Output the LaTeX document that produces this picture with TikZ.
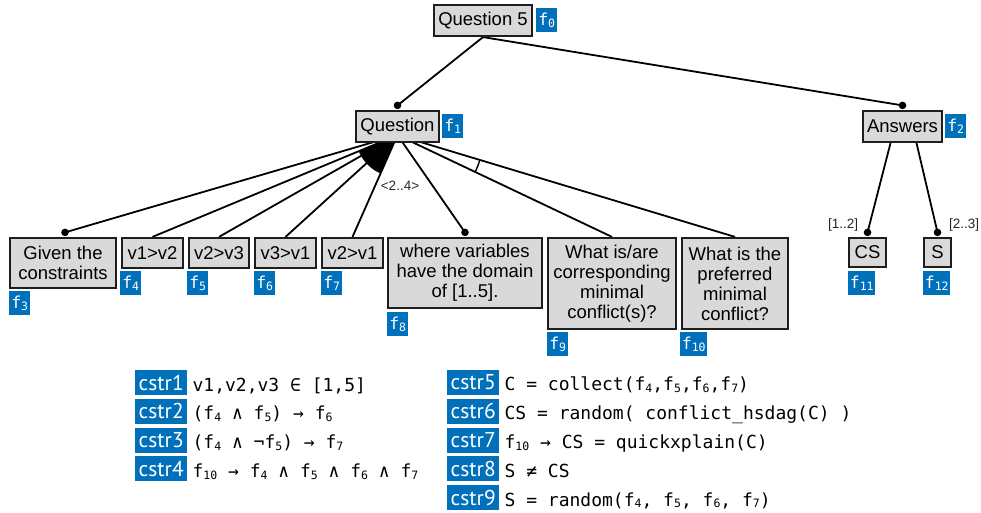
\documentclass[tikz,border=0pt]{standalone}
\usepackage{fontspec}
\setmainfont{Liberation Sans}
\newfontfamily\monof{DejaVu Sans Mono}
\newfontfamily\tagf{PT Sans}
\usetikzlibrary{calc}
\pgfdeclarelayer{bg}
\pgfsetlayers{bg,main}
\definecolor{tagblue}{RGB}{0,112,187}
\definecolor{boxfill}{RGB}{217,217,217}
\definecolor{boxline}{RGB}{30,30,30}
\newcommand\fsub[1]{\raisebox{-0.2ex}{\fontsize{11.5}{11.5}\selectfont #1}}
\begin{document}
\begin{tikzpicture}[x=1pt,y=-1pt,
  box/.style={draw=boxline,line width=2.2pt,fill=boxfill,inner sep=0pt,align=center,font=\fontsize{18.5}{20}\selectfont},
  ftag/.style={fill=tagblue,text=white,inner sep=0pt,anchor=north west,minimum height=24pt,minimum width=21pt,font=\monof\fontsize{16.5}{16.5}\selectfont},
  conn/.style={line width=1.8pt,draw=black},
  lbl/.style={inner sep=0pt,text=black!85,font=\fontsize{13.5}{14}\selectfont},
  ctag/.style={fill=tagblue,text=white,inner sep=0pt,minimum width=52pt,minimum height=25pt,anchor=west,font=\tagf\fontsize{21.5}{21.5}\selectfont},
  ctext/.style={inner sep=0pt,anchor=base west,font=\monof\fontsize{18}{18}\selectfont}]
\useasboundingbox (0,0) rectangle (981,513);

% feature boxes
\node[box,minimum width=98pt,minimum height=31pt] (q5) at (483,20.5) {Question 5};
\node[box,minimum width=83pt,minimum height=31pt] (q) at (397.5,126.5) {Question};
\node[box,minimum width=79pt,minimum height=31pt] (a) at (902.5,126.5) {Answers};
\node[box,minimum width=106pt,minimum height=50pt] (given) at (63,263) {Given the\\constraints};
\node[box,minimum width=61pt,minimum height=30pt] (v12) at (152.5,253) {v1>v2};
\node[box,minimum width=60pt,minimum height=30pt] (v23) at (219,253) {v2>v3};
\node[box,minimum width=61pt,minimum height=30pt] (v31) at (285.5,253) {v3>v1};
\node[box,minimum width=61pt,minimum height=30pt] (v21) at (352.5,253) {v2>v1};
\node[box,minimum width=154pt,minimum height=70pt] (where) at (465,273) {where variables\\have the domain\\of [1..5].};
\node[box,minimum width=128pt,minimum height=91pt] (what) at (612,283.5) {What is/are\\corresponding\\minimal\\conflict(s)?};
\node[box,minimum width=106pt,minimum height=91pt] (pref) at (735,283.5) {What is the\\preferred\\minimal\\conflict?};
\node[box,minimum width=37pt,minimum height=29pt] (cs) at (867.5,252.5) {CS};
\node[box,minimum width=27pt,minimum height=29pt] (s) at (937.5,252.5) {S};

% feature tags
\node[ftag] (t0) at (536,8) {f\fsub{0}};
\node[ftag] (t1) at (442,114) {f\fsub{1}};
\node[ftag] (t2) at (945,114) {f\fsub{2}};
\node[ftag] (t3) at (9,291) {f\fsub{3}};
\node[ftag] (t4) at (120,271) {f\fsub{4}};
\node[ftag] (t5) at (187,271) {f\fsub{5}};
\node[ftag] (t6) at (254,271) {f\fsub{6}};
\node[ftag] (t7) at (321,271) {f\fsub{7}};
\node[ftag] (t8) at (387,312) {f\fsub{8}};
\node[ftag] (t9) at (547,332) {f\fsub{9}};
\node[ftag,minimum width=27pt] (t10) at (680,332) {f\fsub{10}};
\node[ftag,minimum width=27pt] (t11) at (848,271) {f\fsub{11}};
\node[ftag,minimum width=27pt] (t12) at (923,271) {f\fsub{12}};

% dot points and origins
\coordinate (qo) at ($(q.south)+(0,-8)$);
\coordinate (dq) at ($(q.north)+(0,-4.5)$);
\coordinate (da) at ($(a.north)+(0,-4.5)$);
\coordinate (dgiven) at ($(given.north)+(2,-4.5)$);
\coordinate (dwhere) at ($(where.north)+(0,-4.5)$);
\coordinate (dcs) at ($(cs.north)+(0,-4.5)$);
\coordinate (ds) at ($(s.north)+(0,-4.5)$);
\coordinate (al) at ($(a.south)+(-12,0)$);
\coordinate (ar) at ($(a.south)+(14,0)$);

\begin{pgfonlayer}{bg}
\draw[conn] (q5.south) -- (dq);
\draw[conn] (q5.south) -- (da);
\draw[conn] (qo) -- (dgiven);
\draw[conn] (qo) -- (v12.north);
\draw[conn] (qo) -- (v23.north);
\draw[conn] (qo) -- (v31.north);
\draw[conn] (qo) -- (v21.north);
\draw[conn] (qo) -- (dwhere);
\draw[conn] (qo) -- (what.north);
\draw[conn] (qo) -- (pref.north);
\draw[conn] (al) -- (dcs);
\draw[conn] (ar) -- (ds);
% or-group wedge
\fill let \p1=($(v12.north)-(qo)$), \p2=($(v21.north)-(qo)$),
  \n1={atan2(\y1,\x1)}, \n2={atan2(\y2,\x2)} in
  (qo) -- ($(qo)!42pt!(v12.north)$) arc[start angle=\n1, end angle=\n2, radius=42pt] -- cycle;
% alternative arc
\draw[line width=1.4pt] let \p1=($(what.north)-(qo)$), \p2=($(pref.north)-(qo)$),
  \n1={atan2(\y1,\x1)}, \n2={atan2(\y2,\x2)} in
  ($(qo)!86pt!(what.north)$) arc[start angle=\n1, end angle=\n2, radius=86pt];
\end{pgfonlayer}

% dots
\foreach \d in {dq,da,dgiven,dwhere,dcs,ds} \fill (\d) circle (3.8pt);

% cardinality labels
\node[lbl] (card1) at (400,186) {<2..4>};
\node[lbl] (card2) at (843,225) {[1..2]};
\node[lbl] (card3) at (964,225) {[2..3]};

% constraints
\node[ctag] (c1) at (135,382.5) {cstr1};
\node[ctag] (c2) at (135,411.25) {cstr2};
\node[ctag] (c3) at (135,440) {cstr3};
\node[ctag] (c4) at (135,468.75) {cstr4};
\node[ctag] (c5) at (447,382.5) {cstr5};
\node[ctag] (c6) at (447,411.25) {cstr6};
\node[ctag] (c7) at (447,440) {cstr7};
\node[ctag] (c8) at (447,468.75) {cstr8};
\node[ctag] (c9) at (447,497.5) {cstr9};

\node[ctext] (x1) at ($(c1.base east)+(5,1)$) {v1,v2,v3 ∈ [1,5]};
\node[ctext] (x2) at ($(c2.base east)+(5,1)$) {(f\fsub{4} ∧ f\fsub{5}) → f\fsub{6}};
\node[ctext] (x3) at ($(c3.base east)+(5,1)$) {(f\fsub{4} ∧ ¬f\fsub{5}) → f\fsub{7}};
\node[ctext] (x4) at ($(c4.base east)+(5,1)$) {f\fsub{10} → f\fsub{4} ∧ f\fsub{5} ∧ f\fsub{6} ∧ f\fsub{7}};
\node[ctext] (x5) at ($(c5.base east)+(5,1)$) {C = collect(f\fsub{4},f\fsub{5},f\fsub{6},f\fsub{7})};
\node[ctext] (x6) at ($(c6.base east)+(5,1)$) {CS = random( conflict\_hsdag(C) )};
\node[ctext] (x7) at ($(c7.base east)+(5,1)$) {f\fsub{10} → CS = quickxplain(C)};
\node[ctext] (x8) at ($(c8.base east)+(5,1)$) {S ≠ CS};
\node[ctext] (x9) at ($(c9.base east)+(5,1)$) {S = random(f\fsub{4}, f\fsub{5}, f\fsub{6}, f\fsub{7})};
\end{tikzpicture}
\end{document}
